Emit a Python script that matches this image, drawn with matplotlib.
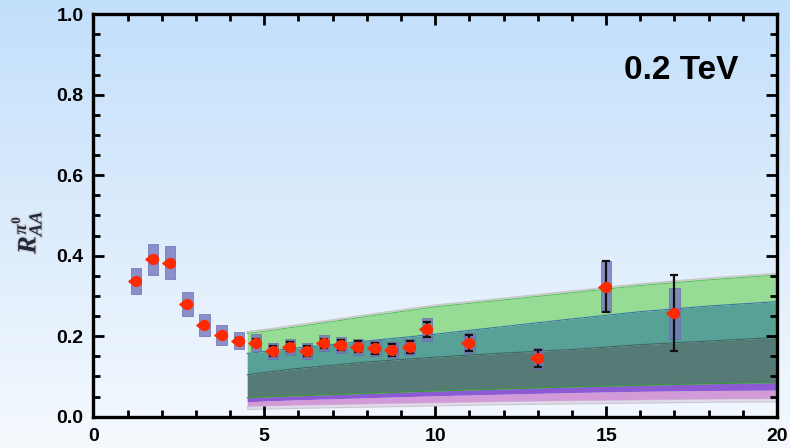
import numpy as np
import matplotlib
matplotlib.use('Agg')
import matplotlib.pyplot as plt
from matplotlib.patches import Rectangle
from matplotlib.path import Path
from matplotlib.colors import LinearSegmentedColormap
import matplotlib.patheffects as pe

# измеренные точки R_AA для pi0
pt = [1.25, 1.75, 2.25, 2.75, 3.25, 3.75, 4.25, 4.75, 5.25, 5.75, 6.25,
      6.75, 7.25, 7.75, 8.25, 8.75, 9.25, 9.75, 11, 13, 15, 17]
raa = [0.338, 0.391, 0.383, 0.280, 0.228, 0.203, 0.189, 0.184, 0.164, 0.174, 0.164,
       0.182, 0.178, 0.174, 0.170, 0.166, 0.174, 0.217, 0.184, 0.145, 0.323, 0.257]
stat = [0.005, 0.005, 0.005, 0.005, 0.005, 0.005, 0.006, 0.008, 0.012, 0.012, 0.012,
        0.012, 0.013, 0.013, 0.014, 0.014, 0.015, 0.018, 0.020, 0.021, 0.064, 0.094]
syst = [0.032, 0.038, 0.040, 0.030, 0.027, 0.024, 0.022, 0.021, 0.020, 0.020, 0.020,
        0.020, 0.020, 0.020, 0.020, 0.020, 0.020, 0.028, 0.025, 0.026, 0.064, 0.064]

# теоретические полосы (границы снизу вверх)
pt_band = [4.5, 5, 6, 8, 10, 12, 14, 16, 18, 20]
band_pale = [0.019, 0.020, 0.022, 0.025, 0.028, 0.031, 0.033, 0.035, 0.037, 0.038]
band_pink = [0.027, 0.028, 0.030, 0.033, 0.036, 0.039, 0.041, 0.043, 0.045, 0.046]
band_purple = [0.037, 0.039, 0.042, 0.047, 0.052, 0.056, 0.060, 0.063, 0.065, 0.066]
band_slate = [0.047, 0.049, 0.052, 0.058, 0.064, 0.069, 0.074, 0.078, 0.082, 0.085]
band_teal = [0.104, 0.110, 0.120, 0.136, 0.148, 0.158, 0.167, 0.179, 0.188, 0.197]
band_green = [0.157, 0.162, 0.171, 0.188, 0.205, 0.224, 0.243, 0.261, 0.275, 0.286]
band_top = [0.207, 0.212, 0.224, 0.249, 0.273, 0.290, 0.308, 0.326, 0.340, 0.352]

plt.rcParams['mathtext.fontset'] = 'custom'
plt.rcParams['mathtext.it'] = 'Liberation Serif:italic:bold'
plt.rcParams['mathtext.rm'] = 'Liberation Serif:bold'

fig = plt.figure(figsize=(7.9, 4.48), dpi=100)

# фон - вертикальный градиент
bg = fig.add_axes([0, 0, 1, 1], zorder=-10)
grad = LinearSegmentedColormap.from_list('bg', ['#f5f9fe', '#dcecfc', '#c2dffb'])
bg.imshow(np.linspace(0, 1, 256).reshape(-1, 1), aspect='auto', cmap=grad,
          origin='lower', extent=[0, 1, 0, 1])
bg.axis('off')

ax = fig.add_axes([0.1182, 0.0699, 0.8654, 0.8982])
ax.set_facecolor('none')

# полосы
ax.fill_between(pt_band, band_pale, band_pink, color='#e4d8ee', ec='#c8c8d0', lw=0.8, zorder=1)
ax.fill_between(pt_band, band_pink, band_purple, color='#d39ad8', lw=0, zorder=1)
ax.fill_between(pt_band, band_purple, band_slate, color='#8c5ad2', lw=0, zorder=1)
ax.fill_between(pt_band, band_slate, band_teal, color='#567b77', lw=0, zorder=1)
ax.fill_between(pt_band, band_teal, band_green, color='#57a196', lw=0, zorder=1)
ax.fill_between(pt_band, band_green, band_top, color='#97dc95', lw=0, zorder=1)
ax.plot(pt_band, [v + 0.004 for v in band_top], color='#c8c8c8', lw=1.2, zorder=1)
ax.plot(pt_band, band_top, color='#5cc05c', lw=0.8, zorder=1)
ax.plot(pt_band, band_green, color='#3a78a0', lw=0.8, zorder=1)
ax.plot(pt_band, band_teal, color='#3f6662', lw=0.8, zorder=1)
ax.plot(pt_band, band_slate, color='#3a9a3a', lw=0.8, zorder=1)

# систематические ошибки - прямоугольники
for x, y, s in zip(pt, raa, syst):
    ax.add_patch(Rectangle((x - 0.15, y - s), 0.3, 2 * s, fc='#7676be', ec='#6a6aa8',
                           alpha=0.8, lw=0.6, zorder=2))

# статистические ошибки
ax.errorbar(pt, raa, yerr=stat, fmt='none', ecolor='#111111', elinewidth=1.6,
            capsize=3, capthick=1.6, zorder=3)

# маркер-капля с острием влево
t = np.radians(np.linspace(-145, 145, 40))
verts = list(zip(np.cos(t), np.sin(t))) + [(-1.55, 0.0), (np.cos(t[0]), np.sin(t[0]))]
drop = Path(verts, closed=True)
ax.plot(pt, raa, ls='none', marker=drop, ms=11, color='#ff2a00', mec='#ff2a00', zorder=4)

ax.text(17.2, 0.86, '0.2 TeV', fontsize=24, fontweight='bold', family='Liberation Sans',
        ha='center', va='center')

ax.set_xlim(0, 20)
ax.set_ylim(0, 1.0)
ax.set_xticks([0, 5, 10, 15, 20])
ax.set_xticks(np.arange(0, 21, 1), minor=True)
ax.set_yticks([0.0, 0.2, 0.4, 0.6, 0.8, 1.0])
ax.set_yticks(np.arange(0, 1.001, 0.05), minor=True)
ax.set_yticklabels(['0.0', '0.2', '0.4', '0.6', '0.8', '1.0'])

ax.tick_params(which='both', direction='in', top=True, right=True, width=2, color='black')
ax.tick_params(which='major', length=8)
ax.tick_params(which='minor', length=5)
ax.tick_params(axis='y', pad=7)
ax.tick_params(axis='x', pad=8)
for lab in ax.get_xticklabels() + ax.get_yticklabels():
    lab.set_family('Liberation Sans')
    lab.set_fontweight('bold')
    lab.set_fontsize(14)

for sp in ax.spines.values():
    sp.set_linewidth(2.4)
    sp.set_zorder(5)

# подпись оси y
fig.text(0.034, 0.482, r'$R_{AA}^{\pi^0}$', fontsize=19, color='#20283a', rotation=90,
         ha='center', va='center', math_fontfamily='custom',
         path_effects=[pe.withStroke(linewidth=2, foreground='#d0d4da')])

plt.savefig('out.png', dpi=100)
